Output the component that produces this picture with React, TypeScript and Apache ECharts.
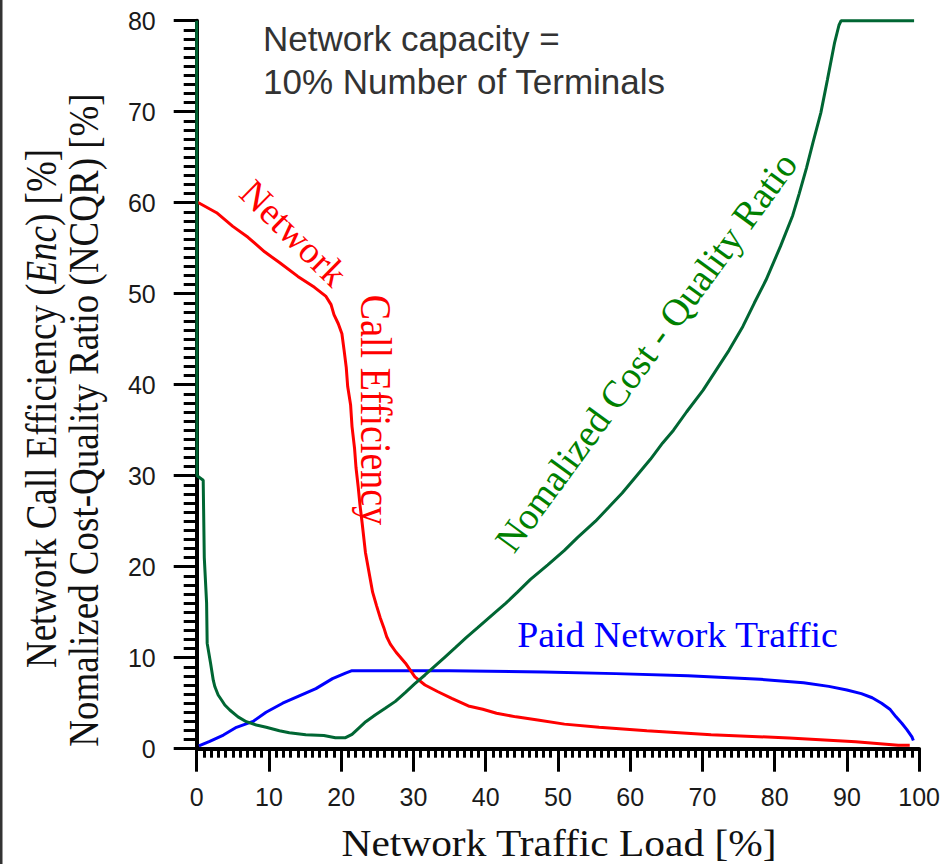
import React, { useEffect, useRef } from "react";
import * as echarts from "echarts";

// Network Call Efficiency (red) [x, y]
const efficiency: number[][] = [
  [0, 60.1], [2.75, 58.9], [5.0, 57.4], [7.1, 56.2], [9.4, 54.6], [11.5, 53.4], [14.0, 51.9],
  [16.3, 50.7], [17.9, 49.7], [18.6, 48.8], [19.0, 47.7], [19.6, 46.7], [20.1, 45.6], [20.4, 43.8],
  [20.7, 41.9], [20.9, 39.8], [21.3, 37.8], [21.5, 35.4], [21.85, 33.0], [22.05, 30.9], [22.35, 28.8],
  [22.6, 26.8], [22.9, 24.8], [23.35, 21.6], [23.8, 19.6], [24.35, 17.2], [24.9, 15.7], [25.4, 14.4],
  [25.9, 13.3], [26.3, 12.3], [26.8, 11.5], [27.6, 10.6], [28.9, 9.4], [30.2, 7.9], [31.6, 7.0],
  [33.4, 6.26], [35.3, 5.54], [37.6, 4.7], [39.6, 4.33], [41.5, 3.9], [44.2, 3.5], [47.2, 3.15],
  [50.9, 2.7], [55.7, 2.35], [62.3, 1.98], [71.2, 1.54], [82.0, 1.18], [91.2, 0.77], [97.1, 0.37],
  [98.7, 0.37],
];

// Normalized Cost-Quality Ratio (green) [x, y]
const ncqr: number[][] = [
  [0, 80], [0.05, 30], [0.9, 29.5], [1.05, 21], [1.37, 16], [1.45, 11.6], [1.92, 9.4], [2.3, 7.5],
  [2.52, 6.8], [2.97, 5.9], [3.44, 5.35], [3.89, 4.8], [4.58, 4.25], [5.72, 3.5], [6.87, 2.97],
  [8.25, 2.6], [9.62, 2.35], [11.45, 1.98], [12.82, 1.76], [15.1, 1.54], [17.6, 1.45], [19.2, 1.21],
  [20.6, 1.21], [21.5, 1.58], [22.4, 2.24], [23.4, 2.97], [24.7, 3.7], [26.1, 4.44], [27.5, 5.2],
  [28.9, 6.2], [30.2, 7.15], [31.6, 8.1], [33.0, 9.1], [34.4, 10.1], [35.8, 11.1], [37.3, 12.2],
  [38.9, 13.3], [41.2, 14.9], [42.8, 16.0], [44.4, 17.2], [46.2, 18.6], [48.6, 20.2], [50.9, 21.8],
  [52.7, 23.2], [55.2, 25.0], [57.0, 26.5], [58.9, 28.1], [60.9, 30.0], [62.8, 31.8], [64.5, 33.6],
  [66.0, 35.0], [67.8, 37.0], [70.1, 39.4], [71.9, 41.6], [73.7, 43.8], [75.6, 46.4], [77.2, 49.0],
  [78.8, 51.5], [80.8, 55.2], [82.5, 58.6], [83.4, 61.0], [84.4, 63.8], [85.3, 66.6], [86.4, 69.9],
  [87.3, 73.5], [88.3, 77.6], [88.9, 79.5], [89.2, 80], [99.3, 80],
];

// Paid Network Traffic (blue) [x, y]
const paidTraffic: number[][] = [
  [0.3, 0.3], [1.8, 0.8], [3.7, 1.5], [5.5, 2.35], [7.8, 3.0], [9.6, 4.0], [11.9, 5.0], [14.2, 5.8],
  [16.5, 6.6], [18.8, 7.7], [20.6, 8.3], [21.5, 8.57], [35, 8.57], [48, 8.42], [58, 8.25], [68, 8.03],
  [78, 7.63], [84, 7.25], [87.5, 6.85], [90, 6.45], [92, 6.05], [93.5, 5.6], [94.8, 5.0], [96, 4.3],
  [96.8, 3.5], [97.6, 2.8], [98.3, 2.1], [99, 1.3], [99.2, 0.9],
];

const xRange = [0, 100];
const yRange = [0, 80];

const SERIF = "'Liberation Serif', 'Times New Roman', serif";
const SANS = "'Liberation Sans', Arial, sans-serif";

export default function App() {
  const ref = useRef<HTMLDivElement>(null);
  useEffect(() => {
    if (!ref.current) return;
    const chart = echarts.init(ref.current, undefined, { renderer: "svg" });
    const axisCommon = {
      type: "value" as const,
      axisLine: { show: true, onZero: false, lineStyle: { color: "#000", width: 4 } },
      axisTick: { show: true, inside: false, length: 23, lineStyle: { color: "#000", width: 3 } },
      splitLine: { show: false },
      minorSplitLine: { show: false },
    };
    chart.setOption({
      animation: false,
      backgroundColor: "#fff",
      grid: { left: 196.7, top: 20.7, width: 727.6, height: 728, containLabel: false },
      xAxis: {
        ...axisCommon,
        min: xRange[0],
        max: xRange[1],
        interval: 10,
        minorTick: { show: true, splitNumber: 10, length: 9, lineStyle: { color: "#000", width: 3 } },
        axisLabel: { color: "#1a1a1a", fontFamily: SANS, fontSize: 25, margin: 36 },
      },
      yAxis: {
        ...axisCommon,
        min: yRange[0],
        max: yRange[1],
        interval: 10,
        minorTick: { show: true, splitNumber: 10, length: 13, lineStyle: { color: "#000", width: 3 } },
        axisLabel: { color: "#1a1a1a", fontFamily: SANS, fontSize: 25, margin: 41 },
      },
      series: [
        {
          type: "line", data: paidTraffic, showSymbol: false, clip: false,
          lineStyle: { color: "#0000ff", width: 3 }, z: 3,
        },
        {
          type: "line", data: efficiency, showSymbol: false, clip: false,
          lineStyle: { color: "#ff0000", width: 3 }, z: 4,
        },
        {
          type: "line", data: ncqr, showSymbol: false, clip: false,
          lineStyle: { color: "#006633", width: 3 }, z: 5,
        },
      ],
      graphic: [
        { type: "rect", left: 0, top: 0, shape: { x: 0, y: 0, width: 2.5, height: 864 }, style: { fill: "#333" } },
        {
          type: "text", x: 263, y: 38.3,
          style: { text: "Network capacity =", font: `35px ${SANS}`, fill: "#333", align: "left", verticalAlign: "middle" },
        },
        {
          type: "text", x: 263, y: 81.3,
          style: { text: "10% Number of Terminals", font: `35px ${SANS}`, fill: "#333", align: "left", verticalAlign: "middle" },
        },
        {
          type: "text", x: 41.5, y: 408.5, rotation: Math.PI / 2, scaleY: 1.18,
          style: {
            text: "Network Call Efficiency ({i|Enc}) [%]",
            font: `37px ${SERIF}`, fill: "#111", align: "center", verticalAlign: "middle",
            rich: { i: { fontStyle: "italic", fontSize: 37, fontFamily: SERIF, fill: "#111" } },
          },
        },
        {
          type: "text", x: 84, y: 420, rotation: Math.PI / 2, scaleY: 1.12,
          style: {
            text: "Nomalized Cost-Quality Ratio (NCQR) [%]",
            font: `37px ${SERIF}`, fill: "#111", align: "center", verticalAlign: "middle",
          },
        },
        {
          type: "text", x: 559, y: 844, scaleX: 1.09,
          style: { text: "Network Traffic Load [%]", font: `38px ${SERIF}`, fill: "#111", align: "center", verticalAlign: "middle" },
        },
        {
          type: "text", x: 294, y: 233, rotation: -0.78,
          style: { text: "Network", font: `38px ${SERIF}`, fill: "#ff0000", align: "center", verticalAlign: "middle" },
        },
        {
          type: "text", x: 375, y: 410, rotation: -Math.PI / 2, scaleY: 1.15,
          style: { text: "Call Efficiency", font: `38px ${SERIF}`, fill: "#ff0000", align: "center", verticalAlign: "middle" },
        },
        {
          type: "text", x: 646, y: 352, rotation: 0.94,
          style: { text: "Nomalized Cost - Quality Ratio", font: `38px ${SERIF}`, fill: "#008000", align: "center", verticalAlign: "middle" },
        },
        {
          type: "text", x: 677.5, y: 634.5, scaleX: 1.05,
          style: { text: "Paid Network Traffic", font: `36px ${SERIF}`, fill: "#0000ff", align: "center", verticalAlign: "middle" },
        },
      ],
    });
    return () => chart.dispose();
  }, []);
  return <div ref={ref} style={{ position: "absolute", left: 0, top: 0, width: 943, height: 864 }} />;
}
